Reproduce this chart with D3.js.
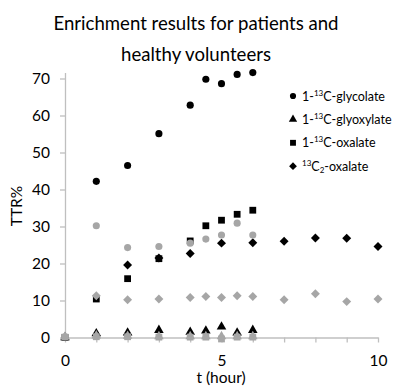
<!DOCTYPE html>
<html><head><meta charset="utf-8">
<script src="https://cdn.jsdelivr.net/npm/d3@7"></script>
<style>body{margin:0;background:#fff}svg{display:block}text{font-family:Lato,"Open Sans",sans-serif}</style>
</head><body><svg id="c" width="393" height="388"></svg>
<script>
// ---- data ----
const titleLines = ["Enrichment results for patients and", "healthy volunteers"];
const xTicks = [0,1,2,3,4,5,6,7,8,9,10];
const xTickLabels = {0:"0",5:"5",10:"10"};
const yTicks = [0,10,20,30,40,50,60,70];

const glycolateT = [1,2,3,4,4.5,5,5.5,6];
const glycolateV = [42.2,46.5,55.1,62.8,69.8,68.6,71.1,71.6];
const glyoxylateT = [0,1,2,3,4,4.5,5,5.5,6];
const glyoxylateV = [0,1.1,1.3,2.0,1.5,1.8,2.9,1.3,2.0];
const oxalateT = [0,1,2,3,4,4.5,5,5.5,6];
const oxalateV = [0,10.4,15.9,21.3,26.1,30.2,31.7,33.3,34.4];
const c2oxalateT = [2,3,4,5,6,7,8,9,10];
const c2oxalateV = [19.6,21.5,22.7,25.5,25.6,26.0,26.9,26.8,24.6];

const hvGlycolateT = [0,1,2,3,4,4.5,5,5.5,6];
const hvGlycolateV = [0.2,30.2,24.3,24.6,25.5,26.6,27.7,30.9,27.7];
const hvGlyoxylateT = [0,1,2,3,4,4.5,5,5.5,6];
const hvGlyoxylateV = [0.2,0.5,0.4,0.3,0.3,0.3,0.3,0.3,0.3];
const hvOxalateT = [0,1,2,3,4,4.5,5,5.5,6];
const hvOxalateV = [0.1,0.2,0.2,0.1,0.1,0.1,-0.4,0.1,0.1];
const hvC2oxalateT = [1,2,3,4,4.5,5,5.5,6,7,8,9,10];
const hvC2oxalateV = [11.3,10.2,10.4,10.8,11.1,10.8,11.3,11.1,10.2,11.8,9.7,10.4];

const series = [
  {t:glycolateT, v:glycolateV, shape:"circle", color:"#000"},
  {t:glyoxylateT, v:glyoxylateV, shape:"triangle", color:"#000"},
  {t:oxalateT, v:oxalateV, shape:"square", color:"#000"},
  {t:c2oxalateT, v:c2oxalateV, shape:"diamond", color:"#000"},
  {t:hvGlycolateT, v:hvGlycolateV, shape:"circle", color:"#a6a6a6"},
  {t:hvGlyoxylateT, v:hvGlyoxylateV, shape:"triangle", color:"#a6a6a6"},
  {t:hvOxalateT, v:hvOxalateV, shape:"square", color:"#a6a6a6"},
  {t:hvC2oxalateT, v:hvC2oxalateV, shape:"diamond", color:"#a6a6a6"}
];
const legend = [
  {shape:"circle", parts:[["1-",""],["13","sup"],["C-glycolate",""]]},
  {shape:"triangle", parts:[["1-",""],["13","sup"],["C-glyoxylate",""]]},
  {shape:"square", parts:[["1-",""],["13","sup"],["C-oxalate",""]]},
  {shape:"diamond", parts:[["13","sup"],["C",""],["2","sub"],["-oxalate",""]]}
];

// ---- chart ----
const svg = d3.select("#c");
const x = d3.scaleLinear().domain([0,10]).range([65,378]);
const y = d3.scaleLinear().domain([0,70]).range([337.5,78.5]);
const axisColor = "#bfbfbf";

const symTypes = {circle:d3.symbolCircle, triangle:d3.symbolTriangle, square:d3.symbolSquare, diamond:d3.symbolSquare};
const symSizes = {circle:40, triangle:40, square:46, diamond:40};
const symRot = {circle:0, triangle:0, square:0, diamond:45};
const sym = s => d3.symbol().type(symTypes[s]).size(symSizes[s]);

// title
svg.append("g").selectAll("text").data(titleLines).join("text")
  .attr("x",196).attr("y",(d,i)=>30+i*31)
  .attr("text-anchor","middle").attr("font-size",18.6).attr("fill","#000").text(d=>d);

// axes
const gx = svg.append("g").attr("transform",`translate(0,${y(0)})`)
  .call(d3.axisBottom(x).tickValues(xTicks).tickSize(5).tickSizeOuter(0).tickPadding(12)
    .tickFormat(d=>xTickLabels[d]||""));
const gy = svg.append("g").attr("transform",`translate(${x(0)},0)`)
  .call(d3.axisLeft(d3.scaleLinear().domain([0,71.6]).range([y(0),y(71.6)])).tickValues(yTicks).tickSize(5).tickSizeOuter(0).tickPadding(10));
[gx,gy].forEach(g=>{
  g.selectAll("path,line").attr("stroke",axisColor).attr("stroke-width",1.3);
  g.selectAll("text").attr("font-size",15.5).attr("fill","#000").style("font-family","Lato");
});

// axis titles
svg.append("text").attr("x",221).attr("y",383).attr("text-anchor","middle")
  .attr("font-size",15.5).text("t (hour)");
svg.append("text").attr("transform","translate(22,206) rotate(-90)").attr("text-anchor","middle")
  .attr("font-size",15.5).text("TTR%");

// points
series.forEach(s=>{
  svg.append("g").selectAll("path").data(s.t.map((t,i)=>[t,s.v[i]])).join("path")
    .attr("d",sym(s.shape)())
    .attr("transform",d=>`translate(${x(d[0])},${y(d[1])}) rotate(${symRot[s.shape]})`)
    .attr("fill",s.color);
});

// legend
const lg = svg.append("g");
legend.forEach((l,i)=>{
  const cy = 96 + i*23.4;
  lg.append("path").attr("d",sym(l.shape).size(symSizes[l.shape]*0.75)())
    .attr("transform",`translate(293,${cy}) rotate(${symRot[l.shape]})`).attr("fill","#000");
  const t = lg.append("text").attr("x",302).attr("y",cy+4.5).attr("font-size",12.5);
  l.parts.forEach(p=>{
    const ts = t.append("tspan").text(p[0]);
    if(p[1]==="sup") ts.attr("font-size",8).attr("baseline-shift","5");
    if(p[1]==="sub") ts.attr("font-size",8).attr("baseline-shift","-2");
  });
});
</script></body></html>
